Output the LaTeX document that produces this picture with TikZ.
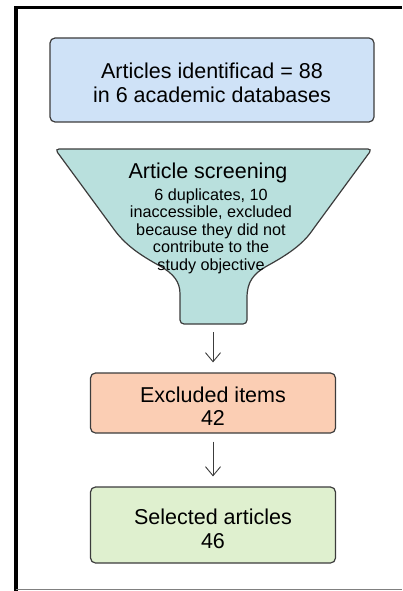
\documentclass[tikz,border=0pt]{standalone}
\usepackage{fontspec}
\setmainfont{Liberation Sans}
\usetikzlibrary{arrows.meta,positioning}

\definecolor{idblue}{RGB}{207,226,247}
\definecolor{scrteal}{RGB}{185,224,221}
\definecolor{exsalmon}{RGB}{251,206,180}
\definecolor{selgreen}{RGB}{223,240,207}
\definecolor{edgegray}{RGB}{60,60,60}

\begin{document}
\begin{tikzpicture}[x=1pt,
            y=-1pt,
            >={Straight Barb[length=9pt,width=15pt]},
            box/.style={draw=edgegray, line width=1.2pt, rounded corners=5pt,
                        align=center, inner sep=0pt, text height=45pt,
                        font=\fontsize{21.5}{23.5}\selectfont},
            body/.style={align=center, inner sep=0pt,
                        font=\fontsize{16.2}{17.6}\selectfont},
            flow/.style={->, draw=edgegray, line width=0.9pt,
                        shorten <=8pt, shorten >=10pt}]

        \useasboundingbox (0,0) rectangle (402,591);

        % frame
        \draw[line width=3.5pt] (16,591) -- (16,7.5) -- (402,7.5);
        \draw[gray, line width=1.5pt] (16,589.5) -- (402,589.5);

        \node[box, fill=idblue, minimum width=324pt, minimum height=84pt]
            (ident) at (212,80) {Articles identificad = 88\\in 6 academic databases};

        % funnel
        \filldraw[fill=scrteal, draw=edgegray, line width=1.2pt]
            [rounded corners=4pt] (213,149) -- (372,149) -- (314,228)
            [sharp corners] .. controls (302,245) and (287,255) .. (267,266)
                            .. controls (253,274) and (247,282) .. (247,298)
            [rounded corners=4pt] -- (247,324) -- (180,324) -- (180,298)
            [sharp corners] .. controls (180,282) and (174,274) .. (160,266)
                            .. controls (140,255) and (125,245) .. (113,228)
            [rounded corners=4pt] -- (55,149) -- cycle;
        \coordinate (neck) at (213,324);

        \node[inner sep=0pt, anchor=base, font=\fontsize{21.5}{23.5}\selectfont]
            (scrtitle) at (208,178) {Article screening};
        \node[body, below=5.5pt of scrtitle, xshift=3pt]
            (scrbody) {6 duplicates, 10\\inaccessible, excluded\\because they did not\\contribute to the\\study objective};

        \node[box, fill=exsalmon, minimum width=245pt, minimum height=60pt]
            (excl) at (213,403) {Excluded items\\42};
        \node[box, fill=selgreen, minimum width=245pt, minimum height=76pt,
              text height=47pt]
            (sel) at (213,525) {Selected articles\\46};

        \path (neck) edge [flow] (excl)
              (excl) edge [flow] (sel);

    \end{tikzpicture}
\end{document}
